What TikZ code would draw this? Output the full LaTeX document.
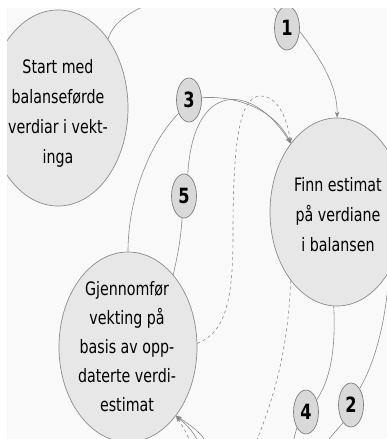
\documentclass[tikz,border=0pt]{standalone}
\usepackage{fontspec}
\setmainfont[FakeStretch=0.77]{DejaVu Sans}
\usetikzlibrary{shapes.geometric,arrows.meta}
\definecolor{paper}{HTML}{F9F9F9}
\definecolor{bigfill}{HTML}{E7E7E7}
\definecolor{bigline}{HTML}{8C8C8C}
\definecolor{numfill}{HTML}{D9D9D9}
\definecolor{numline}{HTML}{7F7F7F}
\definecolor{wire}{HTML}{8A8A8A}
\definecolor{tip}{HTML}{666666}
\tikzset{
  bigstate/.style={ellipse, draw=bigline, fill=bigfill, line width=0.7pt, inner sep=0pt},
  numstate/.style={ellipse, draw=numline, fill=numfill, line width=0.7pt, inner sep=0pt,
    minimum width=25pt, minimum height=44pt, font=\fontsize{21}{22}\selectfont\bfseries},
  caption/.style={align=center, inner sep=0pt, text=black},
  conn/.style={draw=wire, line width=0.6pt},
  arr/.style={-{Stealth[length=6pt,width=4.5pt,fill=tip]}},
}
\begin{document}
\begin{tikzpicture}[x=1pt,y=-1pt]
\useasboundingbox (0,0) rectangle (387,439);
\fill[white] (0,0) rectangle (387,439);
\fill[paper] (7,8) rectangle (387,439);
\begin{scope}
\clip (7,8) rectangle (387,439);

% loose ends of connectors that run out of the frame
\coordinate (t1) at (172,-4);
\coordinate (t2) at (262,-8);
\coordinate (b1) at (252,452);
\coordinate (b2) at (316,454);
\coordinate (b3) at (290,452);
\coordinate (b4) at (214,454);
\coordinate (b5) at (205,454);
\coordinate (b6) at (196,454);

% main states
\node[bigstate, minimum width=140pt, minimum height=196pt] (start) at (58,108) {};
\node[bigstate, minimum width=134pt, minimum height=188pt] (finn) at (337,212) {};
\node[bigstate, minimum width=138pt, minimum height=190pt] (gj) at (128,347) {};

\node[caption, font=\fontsize{18.5}{30}\selectfont] (starttxt) at (58,113)
  {Start med\\balanseførde\\verdiar i vekt-\\inga};
\node[caption, font=\fontsize{18.5}{30}\selectfont] (finntxt) at (338,215)
  {Finn estimat\\på verdiane\\i balansen};
\node[caption, font=\fontsize{18.5}{29}\selectfont] (gjtxt) at (127,347)
  {Gjennomfør\\vekting på\\basis av opp-\\daterte verdi-\\estimat};

% numbered steps
\node[numstate] (n1) at (287,28) {1};
\node[numstate] (n3) at (189,100) {3};
\node[numstate] (n5) at (184,196) {5};
\node[numstate] (n4) at (306,412) {4};
\node[numstate] (n2) at (351,405) {2};

% connectors
\draw[conn] (start.54) .. controls (113,22) and (132,8) .. (t1);
\draw[conn, dashed] (finn.236) .. controls (288,350) and (274,400) .. (b1);
\draw[conn, dashed, arr] (gj.3) .. controls (228,332) and (233,292) .. (233,235)
  .. controls (233,150) and (238,97) .. (260,96)
  .. controls (278,96) and (287,118) .. (finn.124);
\draw[conn] (finn.268) .. controls (336,350) and (330,380) .. (n4.49);
\draw[conn] (finn.311) .. controls (386,320) and (376,360) .. (n2.62);
\draw[conn] (n1.122) -- (t2);
\draw[conn, arr] (n1.-15) .. controls (318,55) and (338,85) .. (finn.90);
\draw[conn, arr] (n3.10) .. controls (240,95) and (276,112) .. (finn.124);
\draw[conn, arr] (n5.80) .. controls (193,80) and (252,82) .. (finn.124);
\draw[conn] (n3.232) .. controls (148,145) and (128,200) .. (gj.90);
\draw[conn] (gj.58) .. controls (179,250) and (181,235) .. (n5.265);
\draw[conn] (n2.246) -- (b2);
\draw[conn] (n4.240) -- (b3);
\draw[conn, arr] (b4) .. controls (200,432) .. (gj.305);
\draw[conn, arr] (b5) .. controls (192,430) .. (gj.305);
\draw[conn, dashed, arr] (b6) .. controls (186,432) .. (gj.305);
\end{scope}
\end{tikzpicture}
\end{document}
